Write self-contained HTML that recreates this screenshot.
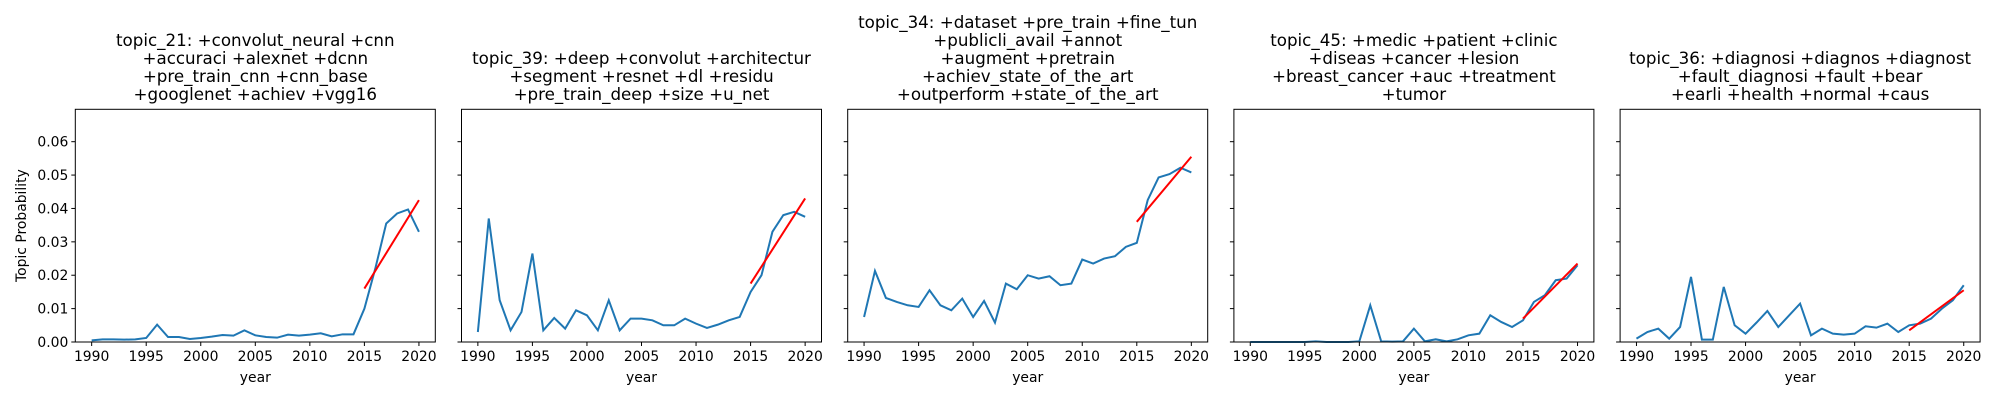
<!DOCTYPE html>
<html><head><meta charset="utf-8"><style>
body{margin:0;background:#fff}
svg text{font-family:"DejaVu Sans","Liberation Sans",sans-serif;fill:#000}
</style></head><body>
<svg id="chart" width="2000" height="400" xmlns="http://www.w3.org/2000/svg"></svg>
<script>
const years = [];
for (let y = 1990; y <= 2020; y++) years.push(y);
const titles = [
 ["topic_21: +convolut_neural +cnn","+accuraci +alexnet +dcnn","+pre_train_cnn +cnn_base","+googlenet +achiev +vgg16"],
 ["topic_39: +deep +convolut +architectur","+segment +resnet +dl +residu","+pre_train_deep +size +u_net"],
 ["topic_34: +dataset +pre_train +fine_tun","+publicli_avail +annot","+augment +pretrain","+achiev_state_of_the_art","+outperform +state_of_the_art"],
 ["topic_45: +medic +patient +clinic","+diseas +cancer +lesion","+breast_cancer +auc +treatment","+tumor"],
 ["topic_36: +diagnosi +diagnos +diagnost","+fault_diagnosi +fault +bear","+earli +health +normal +caus"]
];
const series21 = [0.0005,0.0008,0.0008,0.0007,0.0008,0.0012,0.0052,0.0015,0.0015,0.0009,0.0012,0.0016,0.0021,0.0019,0.0035,0.002,0.0015,0.0013,0.0022,0.0019,0.0022,0.0026,0.0017,0.0023,0.0023,0.01,0.022,0.0355,0.0385,0.0397,0.033];
const series39 = [0.003,0.037,0.0125,0.0035,0.009,0.0265,0.0035,0.0072,0.004,0.0095,0.008,0.0035,0.0125,0.0035,0.007,0.007,0.0065,0.005,0.005,0.007,0.0055,0.0042,0.0052,0.0065,0.0075,0.015,0.02,0.033,0.038,0.039,0.0375];
const series34 = [0.0075,0.0213,0.0132,0.012,0.011,0.0105,0.0155,0.011,0.0095,0.013,0.0075,0.0123,0.0058,0.0175,0.0158,0.02,0.019,0.0197,0.017,0.0175,0.0247,0.0235,0.025,0.0257,0.0285,0.0297,0.0425,0.0493,0.0503,0.0522,0.0508];
const series45 = [0,0,0,0,0,0,0.0002,0,0,0,0.0002,0.011,0.0002,0.0001,0.0002,0.004,0.0002,0.0008,0.0002,0.0008,0.002,0.0025,0.008,0.006,0.0045,0.0065,0.012,0.014,0.0185,0.019,0.023];
const series36 = [0.001,0.003,0.004,0.001,0.0045,0.0195,0.0007,0.0007,0.0165,0.005,0.0025,0.0058,0.0093,0.0045,0.008,0.0115,0.002,0.004,0.0025,0.0022,0.0025,0.0047,0.0043,0.0055,0.003,0.005,0.0055,0.007,0.01,0.0125,0.017];
const trendStart = [0.016,0.0175,0.036,0.007,0.0035];
const trendEnd = [0.0425,0.043,0.0555,0.0235,0.0155];
const trendYears = [2015,2020];
const allSeries = [series21,series39,series34,series45,series36];
const yTicks = [0,0.01,0.02,0.03,0.04,0.05,0.06];
const xTicks = [1990,1995,2000,2005,2010,2015,2020];

const NS="http://www.w3.org/2000/svg";
const svg=document.getElementById('chart');
function el(tag,attrs,parent){const e=document.createElementNS(NS,tag);for(const k in attrs)e.setAttribute(k,attrs[k]);(parent||svg).appendChild(e);return e;}
const lefts=[75.3,461.5,847.7,1233.9,1620.1], W=360, axTop=109.3, axBottom=342;
const ymax=0.0697, xmin=1988.5, xmax=2021.5;
for(let p=0;p<5;p++){
  const L=lefts[p];
  const xs=v=>L+(v-xmin)/(xmax-xmin)*W;
  const ys=v=>axBottom-v/ymax*(axBottom-axTop);
  const g=el('g',{});
  
  
  titles[p].forEach((t,i)=>{
    const n=titles[p].length;
    const tx=el('text',{x:L+W/2,y:100-(n-1-i)*18,'text-anchor':'middle','font-size':'16.7'},g);
    tx.textContent=t;
    
    
  });
  yTicks.forEach(v=>{
    const t=el('line',{x1:L-4,x2:L,y1:ys(v),y2:ys(v),stroke:'#000','stroke-width':1},g);
    
    
    if(p===0){const tx=el('text',{x:L-7,y:ys(v)+5,'text-anchor':'end','font-size':'13.9'},g);tx.textContent=v.toFixed(2);
      
      }
  });
  xTicks.forEach(v=>{
    const t=el('line',{x1:xs(v),x2:xs(v),y1:axBottom,y2:axBottom+4,stroke:'#000','stroke-width':1},g);
    
    
    const tx=el('text',{x:xs(v),y:axBottom+19,'text-anchor':'middle','font-size':'13.9'},g);tx.textContent=v;
    
    
  });
  const xl=el('text',{x:L+W/2,y:382,'text-anchor':'middle','font-size':'13.9'},g);xl.textContent='year';
  
  
  const line=el('polyline',{points:allSeries[p].map((v,i)=>xs(years[i])+','+ys(v)).join(' '),fill:'none',stroke:'#1f77b4','stroke-width':2},g);
  
  
  const tr=el('line',{x1:xs(trendYears[0]),y1:ys(trendStart[p]),x2:xs(trendYears[1]),y2:ys(trendEnd[p]),stroke:'red','stroke-width':2},g);
  
  
  const box=el('rect',{x:L,y:axTop,width:W,height:axBottom-axTop,fill:'none',stroke:'#000','stroke-width':1},g);
  
  
}
const yl=el('text',{x:0,y:0,'text-anchor':'middle','font-size':'13.9',transform:'translate(26,225.6) rotate(-90)'});
yl.textContent='Topic Probability';


</script>
</body></html>
